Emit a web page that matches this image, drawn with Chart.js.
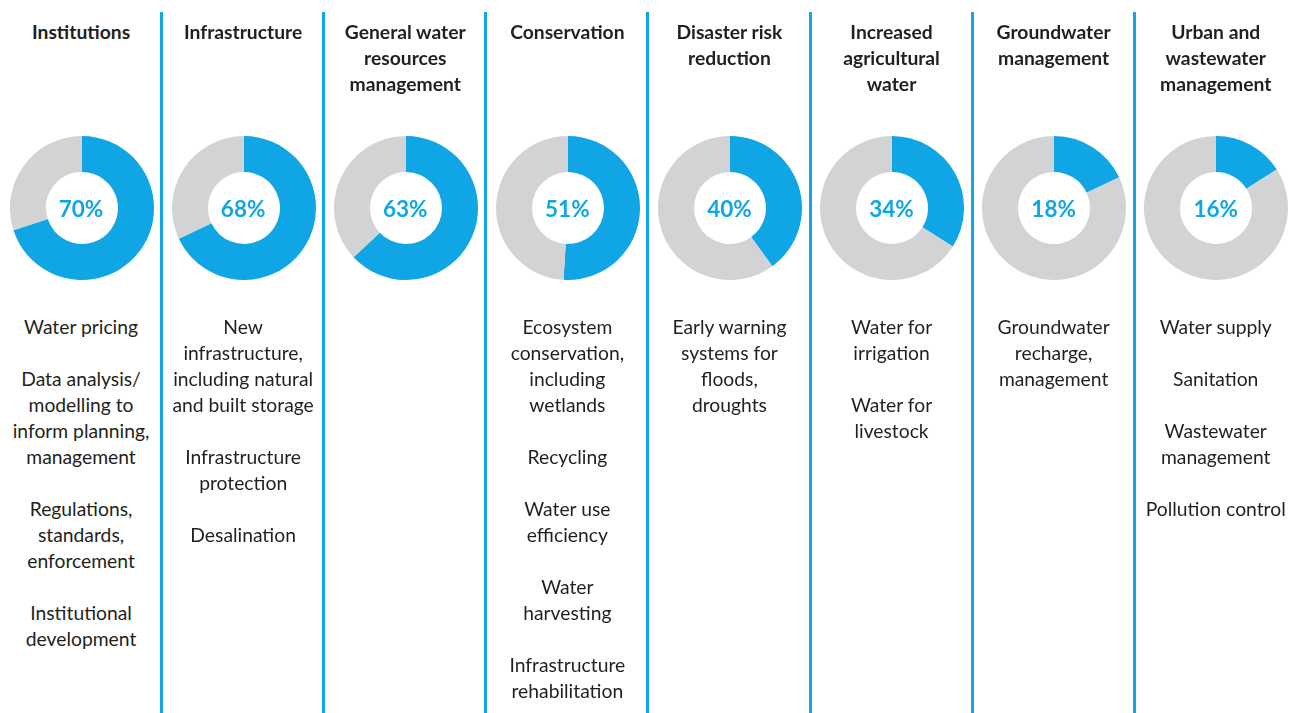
<!DOCTYPE html>
<html>
<head>
<meta charset="utf-8">
<script src="https://cdn.jsdelivr.net/npm/chart.js@4/dist/chart.umd.min.js"></script>
<style>
  html, body { margin: 0; padding: 0; background: #fff; }
  body { width: 1303px; height: 713px; position: relative; overflow: hidden;
         font-family: Lato, "Open Sans", sans-serif; color: #231f20; }
  .col { position: absolute; top: 0; height: 713px; }
  .sep { position: absolute; top: 12px; height: 701px; width: 3px; background: #10a5e5; }
  .head { position: absolute; top: 19px; left: -4px; right: -4px; text-align: center;
          font-weight: 700; font-size: 19.3px; line-height: 26px; }
  .donut { position: absolute; top: 136px; }
  .pct { position: absolute; top: 194px; left: 0; right: 0; text-align: center;
         font-weight: 700; font-size: 22.5px; line-height: 30px; color: #10a5e5; }
  .items { position: absolute; top: 314px; left: -4px; right: -4px; text-align: center;
           font-size: 19.3px; line-height: 26px; }
  .items div { margin-bottom: 26px; }
</style>
</head>
<body>
<script>
// Action areas and the share of plans that include each one
const categories = [
  "Institutions",
  "Infrastructure",
  "General water<br>resources<br>management",
  "Conservation",
  "Disaster risk<br>reduction",
  "Increased<br>agricultural<br>water",
  "Groundwater<br>management",
  "Urban and<br>wastewater<br>management"
];
const shares = [70, 68, 63, 51, 40, 34, 18, 16];
const examples = [
  ["Water pricing", "Data analysis/<br>modelling to<br>inform planning,<br>management", "Regulations,<br>standards,<br>enforcement", "Institutional<br>development"],
  ["New<br>infrastructure,<br>including natural<br>and built storage", "Infrastructure<br>protection", "Desalination"],
  [],
  ["Ecosystem<br>conservation,<br>including<br>wetlands", "Recycling", "Water use<br>efficiency", "Water<br>harvesting", "Infrastructure<br>rehabilitation"],
  ["Early warning<br>systems for<br>floods,<br>droughts"],
  ["Water for<br>irrigation", "Water for<br>livestock"],
  ["Groundwater<br>recharge,<br>management"],
  ["Water supply", "Sanitation", "Wastewater<br>management", "Pollution control"]
];

const BLUE = "#10a5e5";
const GREY = "#d1d3d4";
const colW = 162.1;
const size = 144;

categories.forEach((name, i) => {
  const col = document.createElement("div");
  col.className = "col";
  col.style.left = (i * colW) + "px";
  col.style.width = colW + "px";

  const head = document.createElement("div");
  head.className = "head";
  head.innerHTML = name;
  col.appendChild(head);

  const canvas = document.createElement("canvas");
  canvas.className = "donut";
  canvas.width = size;
  canvas.height = size;
  canvas.style.width = size + "px";
  canvas.style.height = size + "px";
  canvas.style.left = ((colW - size) / 2 + 0.5) + "px";
  col.appendChild(canvas);

  const pct = document.createElement("div");
  pct.className = "pct";
  pct.textContent = shares[i] + "%";
  col.appendChild(pct);

  const list = document.createElement("div");
  list.className = "items";
  examples[i].forEach(t => {
    const d = document.createElement("div");
    d.innerHTML = t;
    list.appendChild(d);
  });
  col.appendChild(list);

  document.body.appendChild(col);

  if (i < categories.length - 1) {
    const sep = document.createElement("div");
    sep.className = "sep";
    sep.style.left = ((i + 1) * colW - 2) + "px";
    document.body.appendChild(sep);
  }

  new Chart(canvas, {
    type: "doughnut",
    data: {
      labels: ["Included", "Not included"],
      datasets: [{
        data: [shares[i], 100 - shares[i]],
        backgroundColor: [BLUE, GREY],
        borderWidth: 0
      }]
    },
    options: {
      responsive: false,
      animation: false,
      cutout: "50%",
      layout: { padding: 0 },
      plugins: { legend: { display: false }, tooltip: { enabled: false } }
    }
  });
});
</script>
</body>
</html>
